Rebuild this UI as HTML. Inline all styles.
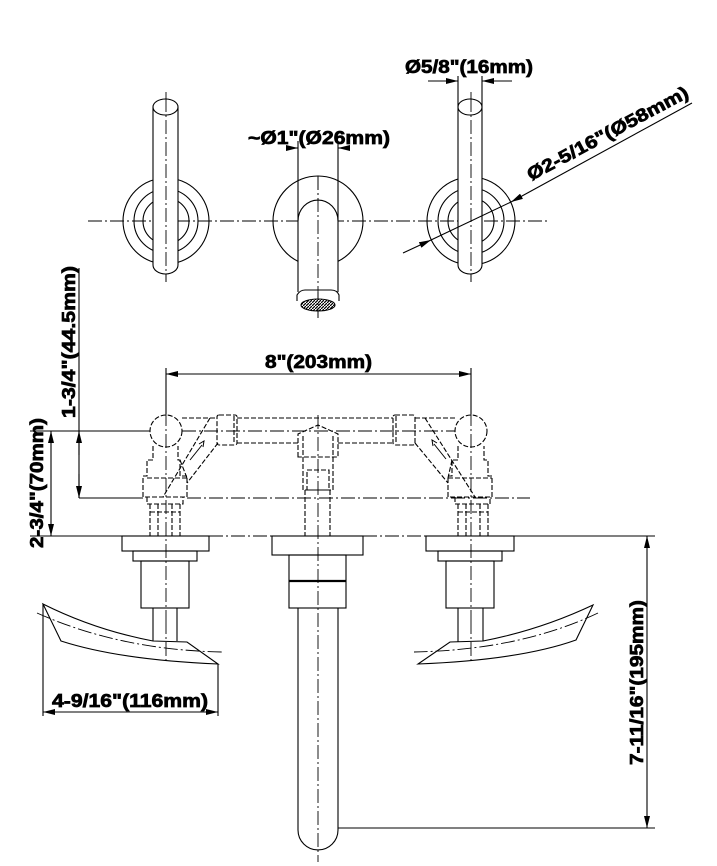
<!DOCTYPE html>
<html><head><meta charset="utf-8"><style>
html,body{margin:0;padding:0;background:#fff;}
svg{display:block;}
text{font-family:"Liberation Sans",Arial,sans-serif;font-weight:bold;font-size:18px;fill:#000;stroke:#000;stroke-width:0.7;}
</style></head><body>
<svg width="717" height="866" viewBox="0 0 717 866" xmlns="http://www.w3.org/2000/svg">
<defs>
<marker id="ar" viewBox="0 0 12 6" refX="12" refY="3" markerWidth="12" markerHeight="6" orient="auto-start-reverse" markerUnits="userSpaceOnUse"><path d="M0,0 L12,3 L0,6 Z" fill="#000"/></marker>
<pattern id="hat" width="3" height="3" patternUnits="userSpaceOnUse"><rect width="3" height="3" fill="#fff"/><path d="M0,3 L3,0" stroke="#000" stroke-width="1.2"/></pattern>
</defs>
<g fill="none" stroke="#000" stroke-width="1.1">
<!-- ===== TOP VIEW ===== -->
<g stroke-dasharray="14 3 2 3" stroke-width="0.9">
<line x1="88" y1="221" x2="550" y2="221"/>
<line x1="166" y1="92" x2="166" y2="282"/>
<line x1="318" y1="176" x2="318" y2="318"/>
<line x1="471" y1="92" x2="471" y2="282"/>
</g>
<circle cx="166" cy="221" r="43"/><circle cx="166" cy="221" r="32"/><circle cx="166" cy="221" r="23"/>
<path d="M153,107 L153,265 A12.5,9 0 0 0 178,265 L178,107" fill="#fff"/>
<ellipse cx="165.5" cy="107" rx="12.5" ry="8" fill="#fff"/>
<line x1="166" y1="98" x2="166" y2="282" stroke-dasharray="14 3 2 3" stroke-width="0.9"/>
<circle cx="471" cy="221" r="44"/><circle cx="471" cy="221" r="33"/><circle cx="471" cy="221" r="23"/>
<path d="M458,107 L458,265 A12,9 0 0 0 482,265 L482,107" fill="#fff"/>
<ellipse cx="470" cy="107" rx="12" ry="8" fill="#fff"/>
<line x1="471" y1="98" x2="471" y2="282" stroke-dasharray="14 3 2 3" stroke-width="0.9"/>
<circle cx="318" cy="221" r="45"/>
<path d="M298,292 L298,221 A20,21 0 0 1 338,221 L338,292" fill="#fff"/>
<path d="M297,301 L297,295 Q300,290 305,290 L331,290 Q337,290 339,295 L339,301"/>
<ellipse cx="318" cy="305" rx="17" ry="6" fill="url(#hat)"/>
<line x1="318" y1="176" x2="318" y2="318" stroke-dasharray="14 3 2 3" stroke-width="0.9"/>
<line x1="298" y1="141" x2="298" y2="221"/><line x1="338" y1="141" x2="338" y2="221"/>
<line x1="286" y1="148" x2="298" y2="148" marker-end="url(#ar)"/>
<line x1="350" y1="148" x2="338" y2="148" marker-end="url(#ar)"/>
<line x1="458" y1="76" x2="458" y2="107"/><line x1="482" y1="76" x2="482" y2="107"/>
<line x1="428" y1="81" x2="458" y2="81" marker-end="url(#ar)"/>
<line x1="512" y1="81" x2="482" y2="81" marker-end="url(#ar)"/>
<line x1="403" y1="253" x2="431" y2="240" marker-end="url(#ar)"/>
<line x1="692" y1="103" x2="511" y2="202" marker-end="url(#ar)"/>
<line x1="431" y1="240" x2="511" y2="202"/>

<!-- ===== FRONT VIEW ===== -->
<line x1="30" y1="431" x2="150" y2="431"/>
<line x1="79" y1="498" x2="143" y2="498"/>
<line x1="30" y1="536" x2="122" y2="536"/>
<g stroke-dasharray="14 3 2 3" stroke-width="0.9">
<line x1="182" y1="431" x2="455" y2="431"/>
<line x1="187" y1="498" x2="530" y2="498"/>
<line x1="209" y1="536" x2="272" y2="536"/>
<line x1="363" y1="536" x2="426" y2="536"/>
<line x1="166" y1="368" x2="166" y2="620"/>
<line x1="471" y1="368" x2="471" y2="620"/>
<line x1="318" y1="415" x2="318" y2="862"/>
</g>
<line x1="166" y1="368" x2="166" y2="414"/>
<line x1="471" y1="368" x2="471" y2="414"/>
<g stroke-dasharray="5 2">
<line x1="182" y1="418" x2="217" y2="418"/><line x1="237" y1="418" x2="393" y2="418"/><line x1="415" y1="418" x2="455" y2="418"/>
<line x1="237" y1="443" x2="298" y2="443"/><line x1="338" y1="443" x2="393" y2="443"/>
<rect x="217" y="415" width="20" height="30" rx="2"/><rect x="393" y="415" width="22" height="30" rx="2"/>
<line x1="234" y1="416" x2="234" y2="444"/><line x1="396" y1="416" x2="396" y2="444"/>
<circle cx="166" cy="431" r="16"/>
<path d="M153,446 L153,460 L147,460 L147,476 L143,476 L143,497 L187,497 L187,476 L180,476 L180,460 L178,460 L178,446"/>
<line x1="147" y1="478" x2="187" y2="478"/>
<line x1="210" y1="418" x2="163" y2="497"/><line x1="218" y1="443" x2="187" y2="483"/><line x1="180" y1="460" x2="187" y2="478"/>
<path d="M147,497 L147,504 L183,504 L183,497"/>
<path d="M150,504 L150,536 M180,504 L180,536 M158,504 L158,536 M172,504 L172,536 M150,512 L180,512"/>
<circle cx="471" cy="431" r="16"/>
<path d="M458,446 L458,460 L452,460 L452,476 L448,476 L448,497 L492,497 L492,476 L488,476 L488,460 L484,460 L484,446"/>
<line x1="448" y1="478" x2="492" y2="478"/>
<line x1="425" y1="418" x2="475" y2="497"/><line x1="415" y1="443" x2="448" y2="483"/><line x1="452" y1="460" x2="448" y2="478"/>
<path d="M455,497 L455,504 L490,504 L490,497"/>
<path d="M458,504 L458,536 M488,504 L488,536 M466,504 L466,536 M480,504 L480,536 M458,512 L488,512"/>
<path d="M298,457 L298,434 L318,425 L338,434 L338,457 Z"/>
<line x1="303" y1="436" x2="303" y2="457"/><line x1="333" y1="436" x2="333" y2="457"/>
<path d="M303,457 L303,490 L333,490 L333,457"/>
<rect x="307" y="470" width="22" height="20"/>
<line x1="305" y1="490" x2="305" y2="536"/><line x1="330" y1="490" x2="330" y2="536"/>
</g>
<path d="M190,460 L202,445 M199,444 L204,441 L203,447" stroke-width="1"/>
<path d="M446,459 L434,444 M437,443 L432,440 L433,446" stroke-width="1"/>
<rect x="122" y="536" width="87" height="15"/>
<rect x="133" y="551" width="64" height="10"/>
<rect x="141" y="561" width="48" height="47"/>
<line x1="153" y1="608" x2="153" y2="641"/><line x1="177" y1="608" x2="177" y2="641"/>
<rect x="426" y="536" width="88" height="15"/>
<rect x="438" y="551" width="64" height="10"/>
<rect x="446" y="561" width="48" height="47"/>
<line x1="458" y1="608" x2="458" y2="642"/><line x1="483" y1="608" x2="483" y2="642"/>
<rect x="272" y="536" width="91" height="19"/>
<rect x="289" y="555" width="57" height="53"/>
<line x1="289" y1="581" x2="346" y2="581" stroke-width="2.2"/>
<path d="M298,608 L298,830 A20,20 0 0 0 338,830 L338,608"/>
<path d="M43,604 L61,641 Q120,660 218,664 L187,642 L153,641 Q95,630 43,604 Z" fill="#fff"/>
<path d="M37,613 Q120,650 222,652" stroke-dasharray="14 3 2 3" stroke-width="0.9"/>
<path d="M593,605 L576,640 Q520,660 418,664 L450,642 L483,641 Q540,630 593,605 Z" fill="#fff"/>
<path d="M598,613 Q520,650 414,652" stroke-dasharray="14 3 2 3" stroke-width="0.9"/>
<line x1="166" y1="620" x2="166" y2="660" stroke-dasharray="14 3 2 3" stroke-width="0.9"/>
<line x1="471" y1="620" x2="471" y2="660" stroke-dasharray="14 3 2 3" stroke-width="0.9"/>
<line x1="166" y1="374" x2="471" y2="374" marker-start="url(#ar)" marker-end="url(#ar)"/>
<line x1="79" y1="268" x2="79" y2="498"/>
<line x1="79" y1="455" x2="79" y2="431" marker-end="url(#ar)"/>
<line x1="79" y1="474" x2="79" y2="498" marker-end="url(#ar)"/>
<line x1="51" y1="431" x2="51" y2="536" marker-start="url(#ar)" marker-end="url(#ar)"/>
<line x1="43" y1="604" x2="43" y2="716"/><line x1="218" y1="664" x2="218" y2="716"/>
<line x1="43" y1="712" x2="218" y2="712" marker-start="url(#ar)" marker-end="url(#ar)"/>
<line x1="514" y1="536" x2="655" y2="536"/>
<line x1="338" y1="828" x2="655" y2="828"/>
<line x1="647" y1="536" x2="647" y2="828" marker-start="url(#ar)" marker-end="url(#ar)"/>
</g>
<text x="248" y="144" textLength="142" lengthAdjust="spacingAndGlyphs">~Ø1"(Ø26mm)</text>
<text x="405" y="73" textLength="128" lengthAdjust="spacingAndGlyphs">Ø5/8"(16mm)</text>
<text x="0" y="0" textLength="180" lengthAdjust="spacingAndGlyphs" transform="translate(531,181) rotate(-28)">Ø2-5/16"(Ø58mm)</text>
<text x="265" y="368" textLength="107" lengthAdjust="spacingAndGlyphs">8"(203mm)</text>
<text x="0" y="0" textLength="152" lengthAdjust="spacingAndGlyphs" transform="translate(75,418) rotate(-90)">1-3/4"(44.5mm)</text>
<text x="0" y="0" textLength="130" lengthAdjust="spacingAndGlyphs" transform="translate(43,548) rotate(-90)">2-3/4"(70mm)</text>
<text x="52" y="707" textLength="156" lengthAdjust="spacingAndGlyphs">4-9/16"(116mm)</text>
<text x="0" y="0" textLength="165" lengthAdjust="spacingAndGlyphs" transform="translate(643,765) rotate(-90)">7-11/16"(195mm)</text>
</svg>
</body></html>
